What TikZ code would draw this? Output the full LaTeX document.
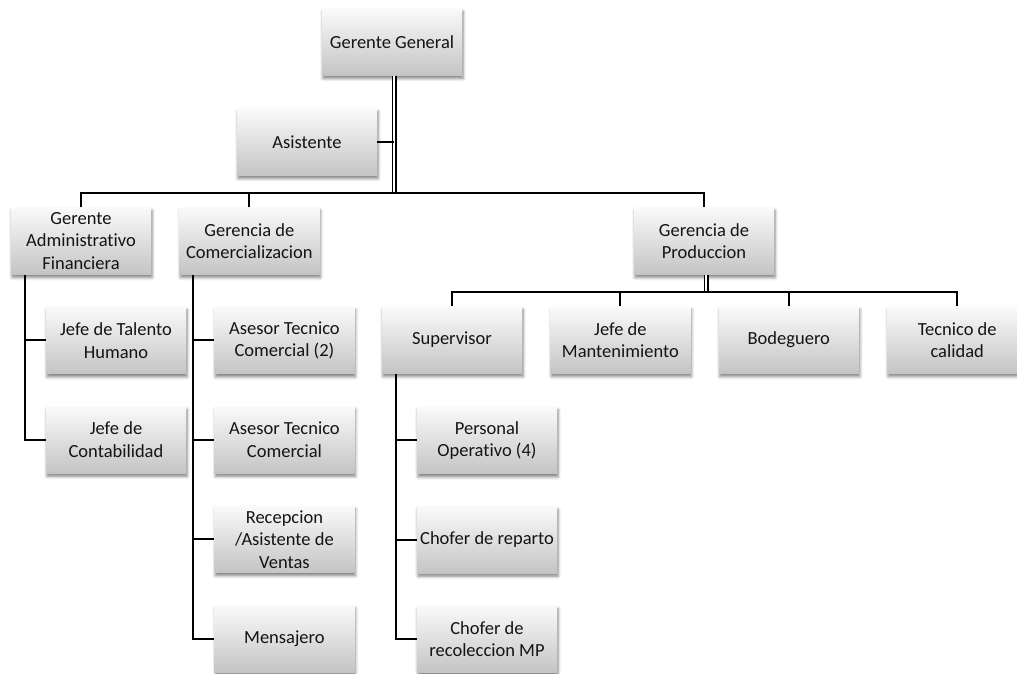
\documentclass[tikz,border=0pt]{standalone}
\usepackage{fontspec}
\setmainfont{Carlito}[Ligatures=NoCommon]
\usepackage{tikz}
\usetikzlibrary{
  positioning,
  calc,
  shadows,
  shadows.blur
}
\definecolor{orgTop}{HTML}{FAFAFA}
\definecolor{orgBottom}{HTML}{C4C4C4}
\definecolor{orgText}{HTML}{141414}
\tikzset{
  orgbox/.style={
    rectangle, minimum width=140pt, minimum height=67pt, inner sep=2pt,
    align=center, text=orgText, top color=orgTop, bottom color=orgBottom,
    font=\fontsize{18.5pt}{22.5pt}\selectfont,
    blur shadow={shadow xshift=1pt, shadow yshift=-3pt,
      shadow blur radius=3pt, shadow opacity=50}
  },
  link/.style={line width=1.9pt, black},
  dline/.style={line width=1.6pt, black, double=white, double distance=1.8pt}
}

\begin{document}
\begin{tikzpicture}[x=1pt, y=1pt, node distance=32pt]
  \useasboundingbox (0,0) rectangle (1017,-674);
  % top of the chart
  \node[orgbox] (gg) at (392,-42) {Gerente General};
  \node[orgbox] (asis) at (307,-142) {Asistente};
  \node[orgbox] (gaf) at (81,-241) {Gerente\\Administrativo\\Financiera};
  \node[orgbox, right=28pt of gaf] (gc) {Gerencia de\\Comercializacion};
  \node[orgbox] (gp) at (704,-241) {Gerencia de\\Produccion};
  % produccion
  \node[orgbox] (sup) at (452,-340) {Supervisor};
  \node[orgbox, right=28pt of sup] (jm) {Jefe de\\Mantenimiento};
  \node[orgbox, right=28pt of jm] (bod) {Bodeguero};
  \node[orgbox, right=28pt of bod] (tec) {Tecnico de\\calidad};
  \node[orgbox, below right=33pt and 35pt of sup.south west] (pop) {Personal\\Operativo (4)};
  \node[orgbox, below=of pop] (chr) {Chofer de reparto};
  \node[orgbox, below=of chr] (chm) {Chofer de\\recoleccion MP};
  % administrativo
  \node[orgbox, below right=32pt and 35pt of gaf.south west] (jth) {Jefe de Talento\\Humano};
  \node[orgbox, below=of jth] (jc) {Jefe de\\Contabilidad};
  % comercializacion
  \node[orgbox, below right=32pt and 35pt of gc.south west] (atc2) {Asesor Tecnico\\Comercial (2)};
  \node[orgbox, below=of atc2] (atc) {Asesor Tecnico\\Comercial};
  \node[orgbox, below=of atc] (rec) {Recepcion\\/Asistente de\\Ventas};
  \node[orgbox, below=of rec] (men) {Mensajero};

  % connectors
  \coordinate (hub) at (394,-193);
  \coordinate (hub2) at ($(gp.south)+(2,-17.5)$);
  \coordinate (gafspine) at ($(gaf.south west)+(14,0)$);
  \coordinate (gcspine) at ($(gc.south west)+(14,0)$);
  \coordinate (supspine) at ($(sup.south west)+(14,0)$);
  \draw[dline] (gg.south -| hub) -- (hub);
  \draw[link] (asis.east) -- (asis.east -| hub);
  \draw[link] (gaf.north) |- (hub) -| (gp.north);
  \draw[link] (gc.north) -- (gc.north |- hub);
  \draw[dline] (gp.south -| hub2) -- (hub2);
  \draw[link] (sup.north) |- (hub2) -| (tec.north);
  \foreach \n in {jm,bod}{\draw[link] (\n.north) -- (\n.north |- hub2);}
  \draw[link] (gafspine) |- (jc.west);
  \draw[link] (jth.west) -- (jth.west -| gafspine);
  \draw[link] (gcspine) |- (men.west);
  \foreach \n in {atc2,atc,rec}{\draw[link] (\n.west) -- (\n.west -| gcspine);}
  \draw[link] (supspine) |- (chm.west);
  \foreach \n in {pop,chr}{\draw[link] (\n.west) -- (\n.west -| supspine);}
\end{tikzpicture}
\end{document}
